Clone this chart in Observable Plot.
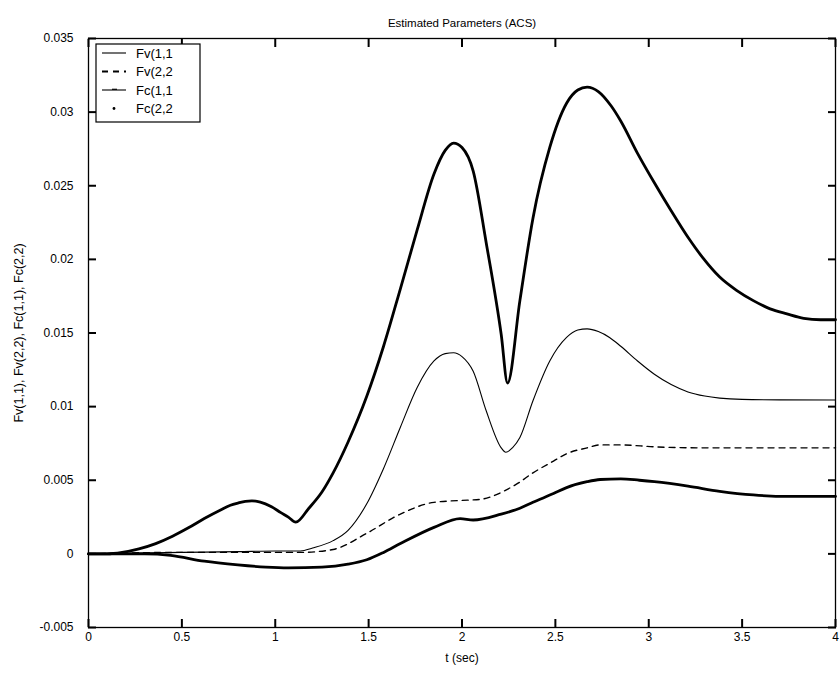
<!DOCTYPE html>
<html>
<head>
<meta charset="utf-8">
<script src="https://cdn.jsdelivr.net/npm/d3@7"></script>
<script src="https://cdn.jsdelivr.net/npm/@observablehq/plot@0.6"></script>
<style>
  html, body { margin: 0; padding: 0; background: #fff; }
  #chart { position: relative; width: 840px; height: 673px; }
</style>
</head>
<body>
<div id="chart"></div>
<script>
// ---- data ----
const title = "Estimated Parameters (ACS)";
const xLabel = "t (sec)";
const yLabel = "Fv(1,1), Fv(2,2), Fc(1,1), Fc(2,2)";
const legendNames = ["Fv(1,1", "Fv(2,2", "Fc(1,1", "Fc(2,2"];

const xTicks = [0, 0.5, 1, 1.5, 2, 2.5, 3, 3.5, 4];
const xTickLabels = ["0", "0.5", "1", "1.5", "2", "2.5", "3", "3.5", "4"];
const yTicks = [-0.005, 0, 0.005, 0.01, 0.015, 0.02, 0.025, 0.03, 0.035];
const yTickLabels = ["-0.005", "0", "0.005", "0.01", "0.015", "0.02", "0.025", "0.03", "0.035"];

// Fv(1,1) thin solid
const fv11T = [0, 0.5, 0.8, 1.0, 1.135, 1.2, 1.31, 1.39, 1.49, 1.58, 1.67, 1.76, 1.85, 1.91, 1.955, 2.0, 2.06, 2.13, 2.21, 2.235, 2.27, 2.31, 2.38, 2.47, 2.56, 2.62, 2.67, 2.73, 2.79, 2.85, 2.94, 3.03, 3.12, 3.21, 3.3, 3.38, 3.5, 3.7, 4.0];
const fv11V = [0, 0.0001, 0.00015, 0.0002, 0.0002, 0.0004, 0.0009, 0.0016, 0.0034, 0.0058, 0.0086, 0.0113, 0.0131, 0.0136, 0.01366, 0.0134, 0.0124, 0.0097, 0.0072, 0.0069, 0.0072, 0.0079, 0.0104, 0.0131, 0.0147, 0.0152, 0.01528, 0.0151, 0.0147, 0.0141, 0.0131, 0.0122, 0.0115, 0.0110, 0.01072, 0.01058, 0.01049, 0.01046, 0.01045];

// Fv(2,2) dashed
const fv22T = [0, 0.5, 1.0, 1.135, 1.31, 1.49, 1.67, 1.85, 2.03, 2.1, 2.16, 2.23, 2.3, 2.38, 2.49, 2.56, 2.67, 2.74, 2.85, 3.03, 3.3, 4.0];
const fv22V = [0, 0.0001, 0.0001, 0.0001, 0.0003, 0.0014, 0.0027, 0.0035, 0.00365, 0.0037, 0.0039, 0.0043, 0.0048, 0.0055, 0.0063, 0.0068, 0.0072, 0.0074, 0.0074, 0.00727, 0.0072, 0.0072];

// Fc(1,1) thick upper
const fc11T = [0, 0.1, 0.18, 0.27, 0.36, 0.45, 0.535, 0.62, 0.71, 0.76, 0.8, 0.84, 0.875, 0.92, 0.98, 1.03, 1.07, 1.11, 1.18, 1.25, 1.31, 1.39, 1.49, 1.58, 1.67, 1.76, 1.85, 1.91, 1.955, 2.0, 2.06, 2.13, 2.21, 2.244, 2.31, 2.38, 2.47, 2.56, 2.62, 2.67, 2.73, 2.8, 2.85, 2.94, 3.03, 3.12, 3.21, 3.29, 3.38, 3.47, 3.56, 3.65, 3.74, 3.83, 3.92, 4.0];
const fc11V = [0, 0, 0.0001, 0.00034, 0.0007, 0.0012, 0.00177, 0.0024, 0.0030, 0.0033, 0.00345, 0.00357, 0.0036, 0.00352, 0.0032, 0.0028, 0.0025, 0.00215, 0.0031, 0.0042, 0.0055, 0.0076, 0.0107, 0.0141, 0.0180, 0.0220, 0.0258, 0.0274, 0.0279, 0.0276, 0.0260, 0.0211, 0.0149, 0.0116, 0.0172, 0.0228, 0.0276, 0.0306, 0.0315, 0.0317, 0.0314, 0.0304, 0.0294, 0.0272, 0.0252, 0.0233, 0.0215, 0.0201, 0.0188, 0.0179, 0.0172, 0.01664, 0.0163, 0.0160, 0.0159, 0.0159];

// Fc(2,2) thick lower
const fc22T = [0, 0.3, 0.44, 0.62, 0.8, 0.95, 1.07, 1.25, 1.39, 1.49, 1.58, 1.67, 1.85, 1.99, 2.06, 2.21, 2.31, 2.38, 2.49, 2.56, 2.67, 2.74, 2.85, 2.95, 3.03, 3.21, 3.38, 3.56, 3.75, 4.0];
const fc22V = [0, 0, -0.0001, -0.0005, -0.00075, -0.0009, -0.00095, -0.0009, -0.0007, -0.0004, 0.0001, 0.0007, 0.0018, 0.0024, 0.0023, 0.0027, 0.0031, 0.0035, 0.0041, 0.0045, 0.0049, 0.00505, 0.0051, 0.0050, 0.0049, 0.0046, 0.00425, 0.0040, 0.0039, 0.0039];

// ---- build tables ----
const toRows = (ts, vs) => ts.map((t, i) => ({t, v: vs[i]}));
const fv11 = toRows(fv11T, fv11V);
const fv22 = toRows(fv22T, fv22V);
const fc11 = toRows(fc11T, fc11V);
const fc22 = toRows(fc22T, fc22V);

const xFmt = d => xTickLabels[xTicks.indexOf(d)];
const yFmt = d => yTickLabels[yTicks.indexOf(d)];
const font = "'Liberation Sans', Arial, Helvetica, sans-serif";

const plot = Plot.plot({
  width: 840,
  height: 673,
  marginLeft: 88,
  marginRight: 5,
  marginTop: 38,
  marginBottom: 46,
  style: {fontFamily: font, fontSize: "12px", background: "#fff", color: "#000"},
  x: {domain: [0, 4]},
  y: {domain: [-0.005, 0.035]},
  marks: [
    // data lines
    Plot.line(fv11, {x: "t", y: "v", stroke: "#000", strokeWidth: 1.1, curve: "monotone-x"}),
    Plot.line(fv22, {x: "t", y: "v", stroke: "#000", strokeWidth: 1.4, strokeDasharray: "6,5", curve: "monotone-x"}),
    Plot.line(fc11, {x: "t", y: "v", stroke: "#000", strokeWidth: 2.8, curve: "monotone-x"}),
    Plot.line(fc22, {x: "t", y: "v", stroke: "#000", strokeWidth: 2.8, curve: "monotone-x"}),
    // frame
    Plot.frame({stroke: "#000", strokeWidth: 1.3}),
    // inward ticks on all four sides
    Plot.axisX(xTicks, {anchor: "bottom", tickSize: 8, dy: -8, tickFormat: () => "", label: null, stroke: "#000", strokeWidth: 2}),
    Plot.axisX(xTicks, {anchor: "top", tickSize: 8, dy: 8, tickFormat: () => "", label: null, stroke: "#000", strokeWidth: 2}),
    Plot.axisY(yTicks, {anchor: "left", tickSize: 8, dx: 8, tickFormat: () => "", label: null, stroke: "#000", strokeWidth: 2}),
    Plot.axisY(yTicks, {anchor: "right", tickSize: 8, dx: -8, tickFormat: () => "", label: null, stroke: "#000", strokeWidth: 2}),
    // tick labels
    Plot.axisX(xTicks, {anchor: "bottom", tickSize: 0, tickPadding: 5, tickFormat: xFmt, label: null, fontSize: 12}),
    Plot.axisY(yTicks, {anchor: "left", tickSize: 0, tickPadding: 15, tickFormat: yFmt, label: null, fontSize: 12}),
    // titles
    Plot.text([title], {frameAnchor: "top", dy: -20, fontSize: 11.5, textAnchor: "middle", text: d => d}),
    Plot.text([xLabel], {frameAnchor: "bottom", dy: 34, fontSize: 12, textAnchor: "middle", text: d => d}),
    Plot.text([yLabel], {frameAnchor: "left", dx: -70, rotate: -90, fontSize: 12.5, textAnchor: "middle", text: d => d})
  ]
});

document.getElementById("chart").appendChild(plot);

// ---- legend ----
const svg = d3.select(plot);
const lg = svg.append("g").attr("transform", "translate(96,44)")
  .style("font-family", font).style("font-size", "13px").attr("text-anchor", "start");
lg.append("rect").attr("width", 104).attr("height", 78).attr("fill", "#fff").attr("stroke", "#000").attr("stroke-width", 1.2);
const styles = [
  {w: 1.1, dash: null, kind: "line"},
  {w: 2, dash: "6,5", kind: "line"},
  {w: 1.1, dash: null, kind: "linemark"},
  {w: 0, dash: null, kind: "dot"}
];
legendNames.forEach((name, i) => {
  const yy = 9 + i * 18.5;
  const s = styles[i];
  if (s.kind === "line" || s.kind === "linemark") {
    lg.append("line").attr("x1", 6).attr("x2", 30).attr("y1", yy).attr("y2", yy)
      .attr("stroke", "#000").attr("stroke-width", s.w).attr("stroke-dasharray", s.dash);
    if (s.kind === "linemark") {
      lg.append("line").attr("x1", 16).attr("x2", 21).attr("y1", yy - 0.7).attr("y2", yy - 0.7)
        .attr("stroke", "#000").attr("stroke-width", 1.2);
    }
  } else {
    lg.append("circle").attr("cx", 18).attr("cy", yy).attr("r", 1.4).attr("fill", "#000");
  }
  lg.append("text").attr("x", 40).attr("y", yy).attr("dy", "0.35em").attr("text-anchor", "start")
    .attr("fill", "#000").text(name);
});
</script>
</body>
</html>
